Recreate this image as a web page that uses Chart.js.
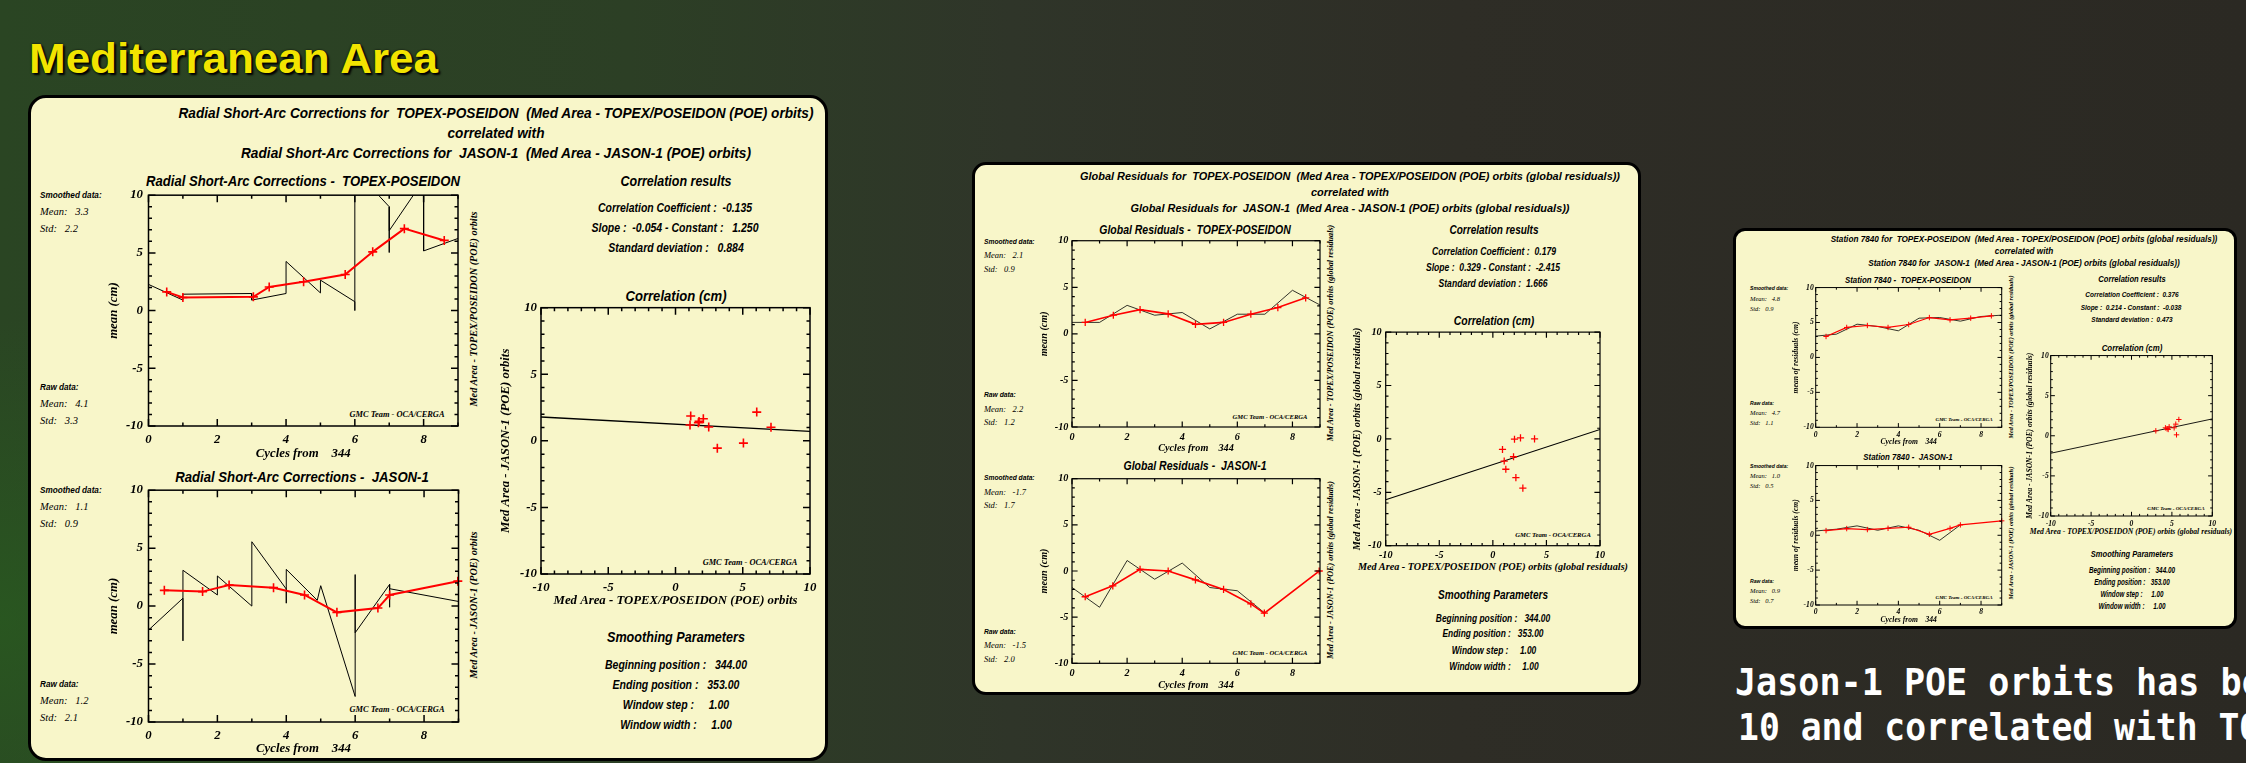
<!DOCTYPE html>
<html>
<head>
<meta charset="utf-8">
<script src="https://cdn.jsdelivr.net/npm/chart.js@4.4.1/dist/chart.umd.min.js"></script>
<style>
html, body { margin: 0; padding: 0; }
body {
  position: relative; width: 2246px; height: 763px; overflow: hidden;
  background:
    radial-gradient(ellipse 420px 300px at 0px 620px, rgba(40,100,30,0.55), rgba(40,100,30,0) 100%),
    linear-gradient(90deg, #2a4523 0%, #2c3f25 28%, #2f3529 45%, #2e2d26 65%, #2b2923 100%);
}
.panel { position: absolute; box-sizing: border-box; background: #f8f6c9; border: 3px solid #000; }
.t { position: absolute; white-space: pre; line-height: 1; color: #000; }
.ss { font-family: 'Liberation Sans', Arial, sans-serif; font-weight: bold; font-style: italic; }
.sf { font-family: 'Liberation Serif', 'Times New Roman', serif; font-weight: bold; font-style: italic; }
.si { font-family: 'Liberation Serif', 'Times New Roman', serif; font-style: italic; }
.head { font-family: 'Liberation Sans', Arial, sans-serif; font-weight: bold; color: #f2e400; text-shadow: 2px 2px 2px #000, 0 0 2px #000; }
.note { font-family: 'DejaVu Sans Mono', monospace; font-weight: bold; color: #fff; }
canvas { position: absolute; }
</style>
</head>
<body>
<script>
// axis ticks
const cycleTicks = [0, 2, 4, 6, 8];
const meanTicks = [-10, -5, 0, 5, 10];
const corrTicks = [-10, -5, 0, 5, 10];

// Radial short-arc corrections - TOPEX-POSEIDON
const rscTpRawX = [0, 1, 1, 3, 3, 4, 4, 5, 5, 6, 6, 6, 7, 7, 7, 8, 8, 9];
const rscTpRawY = [2.27, 0.91, 1.42, 1.48, 0.91, 1.48, 4.26, 1.53, 2.64, 0.77, 0, 12.2, 9.0, 5.03, 6.93, 11.3, 5.17, 6.25];
const rscTpSmX = [0.53, 1.0, 3.05, 3.51, 4.51, 5.72, 6.52, 7.44, 8.6];
const rscTpSmY = [1.62, 1.14, 1.19, 2.05, 2.5, 3.13, 5.09, 7.1, 6.08];
// Radial short-arc corrections - JASON-1
const rscJ1RawX = [0, 1, 1, 1, 2, 2, 3, 3, 4, 4, 4, 4.9, 5, 6, 6, 6, 7, 7, 7, 9];
const rscJ1RawY = [-2.07, 0.68, -3.0, 3.09, 0.96, 2.6, 0, 5.55, 1.47, 0.25, 3.17, 0.5, 1.76, -7.8, 2.72, -2.3, 1.87, -0.1, 1.5, 0.4];
const rscJ1SmX = [0.46, 1.57, 2.34, 3.63, 4.53, 5.47, 6.66, 7.0, 8.98];
const rscJ1SmY = [1.36, 1.25, 1.81, 1.59, 0.96, -0.54, -0.17, 0.96, 2.15];
// Radial short-arc correlation
const rscCorrX = [1.13, 1.08, 1.70, 1.75, 2.07, 2.47, 3.11, 5.05, 6.04, 7.10];
const rscCorrY = [1.86, 1.19, 1.36, 1.46, 1.66, 1.04, -0.55, -0.17, 2.16, 1.02];
const rscFit = [-0.054, 1.250];   // slope, constant

// Global residuals - TOPEX-POSEIDON
const grTpRawX = [0, 1, 2, 3, 4, 5, 6, 7, 8, 9];
const grTpRawY = [1.23, 1.23, 3.06, 2.0, 2.29, 0.53, 2.11, 2.11, 4.68, 3.1];
const grTpSmX = [0.48, 1.5, 2.47, 3.49, 4.48, 5.5, 6.49, 7.47, 8.48];
const grTpSmY = [1.23, 2.0, 2.6, 2.15, 1.02, 1.23, 2.11, 2.82, 3.87];
// Global residuals - JASON-1
const grJ1RawX = [0, 1, 2, 3, 4, 5, 6, 7];
const grJ1RawY = [-1.79, -3.93, 1.14, -0.89, 0.86, -1.79, -2.14, -4.57];
const grJ1SmX = [0.48, 1.48, 2.47, 3.49, 4.48, 5.5, 6.49, 6.98, 8.97];
const grJ1SmY = [-2.79, -1.6, 0.18, 0.0, -0.96, -2.0, -3.57, -4.57, 0.0];
// Global residuals correlation
const grCorrX = [0.9, 1.06, 1.21, 2.02, 2.58, 3.89, 1.93, 2.15, 2.8];
const grCorrY = [-0.99, -2.07, -2.84, -0.03, 0.09, 0.0, -1.67, -3.62, -4.6];
const grFit = [0.329, -2.415];

// Station 7840 - TOPEX-POSEIDON
const stTpRawX = [0, 1, 2, 3, 4, 5, 6, 7, 8, 9];
const stTpRawY = [3.05, 3.33, 4.76, 4.43, 3.81, 5.62, 5.71, 5.19, 5.86, 6.05];
const stTpSmX = [0.5, 1.5, 2.5, 3.5, 4.5, 5.5, 6.5, 7.5, 8.5];
const stTpSmY = [3.0, 4.29, 4.57, 4.29, 4.71, 5.71, 5.38, 5.62, 5.95];
// Station 7840 - JASON-1
const stJ1RawX = [0, 1, 2, 3, 4, 5, 6, 7];
const stJ1RawY = [0.62, 0.87, 1.35, 0.72, 1.35, 0.72, -0.72, 1.49];
const stJ1SmX = [0.5, 1.5, 2.5, 3.5, 4.5, 5.5, 6.5, 7.0, 9.0];
const stJ1SmY = [0.67, 0.96, 0.82, 1.0, 1.15, 0.14, 1.0, 1.49, 2.07];
// Station 7840 correlation
const stCorrX = [3.01, 4.2, 4.4, 4.54, 4.66, 5.28, 5.48, 5.57, 5.86];
const stCorrY = [0.62, 0.99, 0.87, 0.79, 1.12, 0.99, 1.45, 0.12, 2.03];
const stFit = [0.214, -0.038];

// mean / std of smoothed, then raw data
const rscTpStats = ['3.3', '2.2', '4.1', '3.3'];
const rscJ1Stats = ['1.1', '0.9', '1.2', '2.1'];
const grTpStats = ['2.1', '0.9', '2.2', '1.2'];
const grJ1Stats = ['-1.7', '1.7', '-1.5', '2.0'];
const stTpStats = ['4.8', '0.9', '4.7', '1.1'];
const stJ1Stats = ['1.0', '0.5', '0.9', '0.7'];

function pts(xs, ys) {
  return xs.map((x, i) => ({ x: x, y: ys[i] }));
}

// text helper: y is the vertical centre, w stretches the text to a width
function txt(x, y, s, cls, size, w, align, vert) {
  const d = document.createElement('div');
  d.className = 't ' + cls;
  d.style.fontSize = size + 'px';
  d.textContent = s;
  d.style.left = x + 'px';
  d.style.top = y + 'px';
  document.body.appendChild(d);
  const k = w ? w / d.getBoundingClientRect().width : 1;
  if (vert) {
    d.style.transform = 'translate(-50%,-50%) rotate(-90deg) scaleX(' + k + ')';
  } else if (align === 'l') {
    d.style.transformOrigin = '0 50%';
    d.style.transform = 'translate(0,-50%) scaleX(' + k + ')';
  } else {
    d.style.transform = 'translate(-50%,-50%) scaleX(' + k + ')';
  }
  return d;
}

function panel(l, t, r, b, rad) {
  const d = document.createElement('div');
  d.className = 'panel';
  d.style.left = l + 'px'; d.style.top = t + 'px';
  d.style.width = (r - l) + 'px'; d.style.height = (b - t) + 'px';
  d.style.borderRadius = rad + 'px';
  document.body.appendChild(d);
}

function stats(x, y0, y1, gap, v, hs, vs, wh, wr) {
  txt(x, y0, 'Smoothed data:', 'ss', hs, wh, 'l');
  txt(x, y0 + gap, 'Mean:   ' + v[0], 'si', vs, 0, 'l');
  txt(x, y0 + 2 * gap, 'Std:   ' + v[1], 'si', vs, 0, 'l');
  txt(x, y1, 'Raw data:', 'ss', hs, wr, 'l');
  txt(x, y1 + gap, 'Mean:   ' + v[2], 'si', vs, 0, 'l');
  txt(x, y1 + 2 * gap, 'Std:   ' + v[3], 'si', vs, 0, 'l');
}

// IDL style box with inward ticks on all four sides
function frame(k, xMaj) {
  return {
    id: 'frame',
    afterDatasetsDraw(chart) {
      const { ctx, chartArea: a, scales } = chart;
      const big = 7 * k, small = 3.5 * k;
      ctx.save();
      ctx.strokeStyle = '#000';
      ctx.lineWidth = Math.max(1, 1.5 * k);
      ctx.strokeRect(a.left, a.top, a.right - a.left, a.bottom - a.top);
      ctx.beginPath();
      for (let v = scales.x.min; v <= scales.x.max; v++) {
        const p = scales.x.getPixelForValue(v), len = v % xMaj === 0 ? big : small;
        ctx.moveTo(p, a.bottom); ctx.lineTo(p, a.bottom - len);
        ctx.moveTo(p, a.top); ctx.lineTo(p, a.top + len);
      }
      for (let v = scales.y.min; v <= scales.y.max; v++) {
        const p = scales.y.getPixelForValue(v), len = v % 5 === 0 ? big : small;
        ctx.moveTo(a.left, p); ctx.lineTo(a.left + len, p);
        ctx.moveTo(a.right, p); ctx.lineTo(a.right - len, p);
      }
      ctx.stroke();
      ctx.restore();
    }
  };
}

function tsSets(rx, ry, sx, sy, k) {
  return [
    { data: pts(sx, sy), showLine: true, borderColor: '#ff0000', borderWidth: Math.max(1.2, 2 * k),
      pointStyle: 'cross', pointRadius: 4.5 * k, pointBorderColor: '#ff0000', pointBorderWidth: Math.max(1, 1.6 * k), clip: 6 },
    { data: pts(rx, ry), showLine: true, borderColor: '#000', borderWidth: Math.max(0.8, k), pointRadius: 0, clip: 0 }
  ];
}

function corrSets(cx, cy, fit, k) {
  const ends = [corrTicks[0], corrTicks[corrTicks.length - 1]];
  return [
    { data: pts(cx, cy), pointStyle: 'cross', pointRadius: 4.5 * k, pointBorderColor: '#ff0000',
      pointBorderWidth: Math.max(1, 1.6 * k), clip: 6 },
    { data: ends.map(x => ({ x: x, y: fit[0] * x + fit[1] })), showLine: true, borderColor: '#000',
      borderWidth: Math.max(0.9, 1.3 * k), pointRadius: 0, clip: 0 }
  ];
}

function plot(c) {
  const fh = c.f * 1.2;
  const left = Math.round(c.ytx - fh / 2);
  const top = Math.round(c.T - c.pt);
  const right = Math.round(c.R + c.pr);
  const bottom = Math.round(c.xTitle ? c.xty + fh / 2 : c.B + c.xh);
  const yw = c.L - left, xh = bottom - c.B;
  const cv = document.createElement('canvas');
  cv.width = right - left; cv.height = bottom - top;
  cv.style.left = left + 'px'; cv.style.top = top + 'px';
  document.body.appendChild(cv);
  const font = { family: "'Liberation Serif', serif", style: 'italic', weight: 'bold', size: c.f };
  const corr = c.kind === 'corr';
  new Chart(cv, {
    type: 'scatter',
    data: { datasets: c.sets },
    plugins: [frame(c.k, corr ? 5 : 2)],
    options: {
      animation: false, responsive: false, events: [],
      layout: { padding: { top: c.T - top, right: right - c.R, left: 0, bottom: 0 } },
      plugins: { legend: { display: false }, tooltip: { enabled: false } },
      scales: {
        x: {
          min: corr ? -10 : 0, max: corr ? 10 : 9,
          afterBuildTicks: s => { s.ticks = (corr ? corrTicks : cycleTicks).map(v => ({ value: v })); },
          afterFit: s => { s.height = xh; },
          grid: { display: false, drawTicks: false }, border: { display: false },
          ticks: { font: font, color: '#000', padding: c.xpad, maxRotation: 0, autoSkip: false },
          title: { display: !!c.xTitle, text: c.xTitle || '', font: font, color: '#000', padding: 0 }
        },
        y: {
          min: -10, max: 10,
          afterBuildTicks: s => { s.ticks = (corr ? corrTicks : meanTicks).map(v => ({ value: v })); },
          afterFit: s => { s.width = yw; },
          grid: { display: false, drawTicks: false }, border: { display: false },
          ticks: { font: font, color: '#000', padding: c.ypad, autoSkip: false },
          title: { display: true, text: c.yTitle, font: font, color: '#000', padding: 0 }
        }
      }
    }
  });
}

// ---------- page title and side note ----------
txt(29, 58, 'Mediterranean Area', 'head', 43, 409, 'l');
txt(1735, 682, 'Jason-1 POE orbits has been', 'note', 38, 570, 'l');
txt(1738, 727, '10 and correlated with TOPEX', 'note', 38, 585, 'l');

// ---------- panel 1 : radial short-arc corrections ----------
panel(28, 95, 828, 761, 18);
txt(495.5, 113, 'Radial Short-Arc Corrections for  TOPEX-POSEIDON  (Med Area - TOPEX/POSEIDON (POE) orbits)', 'ss', 14, 635);
txt(495.5, 133, 'correlated with', 'ss', 14, 97);
txt(496, 153, 'Radial Short-Arc Corrections for  JASON-1  (Med Area - JASON-1 (POE) orbits)', 'ss', 14, 510);
txt(302.6, 180, 'Radial Short-Arc Corrections -  TOPEX-POSEIDON', 'ss', 15, 314);
txt(302, 476, 'Radial Short-Arc Corrections -  JASON-1', 'ss', 15, 253.6);
txt(675.5, 180, 'Correlation results', 'ss', 15, 111);
txt(675.4, 208, 'Correlation Coefficient :  -0.135', 'ss', 12.5, 154);
txt(675.4, 228, 'Slope :  -0.054 - Constant :   1.250', 'ss', 12.5, 167);
txt(675.6, 248, 'Standard deviation :   0.884', 'ss', 12.5, 135.5);
txt(676, 295, 'Correlation (cm)', 'ss', 15, 101);
txt(675.5, 637, 'Smoothing Parameters', 'ss', 15.5, 138);
txt(675.7, 665, 'Beginning position :   344.00', 'ss', 13.5, 142);
txt(675.7, 685, 'Ending position :   353.00', 'ss', 13.5, 126.8);
txt(676, 705, 'Window step :     1.00', 'ss', 13.5, 106.4);
txt(675.7, 725, 'Window width :     1.00', 'ss', 13.5, 111.4);
stats(40, 195, 387, 17, rscTpStats, 9.5, 10.5, 61.6, 38.6);
stats(40, 490, 684, 17, rscJ1Stats, 9.5, 10.5, 61.6, 38.6);
txt(474, 309, 'Med Area - TOPEX/POSEIDON (POE) orbits', 'sf', 10.2, 195, 'c', true);
txt(474, 605, 'Med Area - JASON-1 (POE) orbits', 'sf', 10.2, 147, 'c', true);
txt(396.5, 415, 'GMC Team - OCA/CERGA', 'sf', 8.3, 95);
txt(396.5, 710, 'GMC Team - OCA/CERGA', 'sf', 8.3, 95);
txt(750, 562.7, 'GMC Team - OCA/CERGA', 'sf', 8.3, 94.7);

plot({ kind: 'ts', k: 1, f: 12.8, L: 148.5, T: 192, R: 458, B: 426, ytx: 114, xty: 453, ypad: 5.5, xpad: 6, pt: 10, pr: 10,
  yTitle: 'mean (cm)', xTitle: 'Cycles from    344', sets: tsSets(rscTpRawX, rscTpRawY, rscTpSmX, rscTpSmY, 1) });
plot({ kind: 'ts', k: 1, f: 12.8, L: 148.5, T: 487, R: 458.5, B: 722, ytx: 114, xty: 748, ypad: 5.5, xpad: 6, pt: 10, pr: 10,
  yTitle: 'mean (cm)', xTitle: 'Cycles from    344', sets: tsSets(rscJ1RawX, rscJ1RawY, rscJ1SmX, rscJ1SmY, 1) });
plot({ kind: 'corr', k: 1, f: 12.8, L: 541, T: 306, R: 810, B: 574, ytx: 506, xty: 600, ypad: 4, xpad: 6, pt: 10, pr: 14,
  yTitle: 'Med Area - JASON-1 (POE) orbits', xTitle: 'Med Area - TOPEX/POSEIDON (POE) orbits',
  sets: corrSets(rscCorrX, rscCorrY, rscFit, 1) });

// ---------- panel 2 : global residuals ----------
panel(971.6, 161.7, 1641.5, 695, 14);
txt(1349.5, 176.5, 'Global Residuals for  TOPEX-POSEIDON  (Med Area - TOPEX/POSEIDON (POE) orbits (global residuals))', 'ss', 11.5, 540);
txt(1349.5, 192.5, 'correlated with', 'ss', 11.5, 78);
txt(1349.6, 208.5, 'Global Residuals for  JASON-1  (Med Area - JASON-1 (POE) orbits (global residuals))', 'ss', 11.5, 439);
txt(1195, 230, 'Global Residuals -  TOPEX-POSEIDON', 'ss', 12.5, 191.5);
txt(1195, 466, 'Global Residuals -  JASON-1', 'ss', 12.5, 143);
txt(1493.5, 230, 'Correlation results', 'ss', 12.5, 89);
txt(1493.6, 251.7, 'Correlation Coefficient :  0.179', 'ss', 10.3, 124);
txt(1493.2, 267.7, 'Slope :  0.329 - Constant :  -2.415', 'ss', 10.3, 134);
txt(1493.2, 283.7, 'Standard deviation :  1.666', 'ss', 10.3, 109);
txt(1493.8, 320.7, 'Correlation (cm)', 'ss', 12.5, 80.5);
txt(1493, 595, 'Smoothing Parameters', 'ss', 12.5, 110);
txt(1493.2, 617.7, 'Beginning position :   344.00', 'ss', 11, 114.4);
txt(1493.2, 633, 'Ending position :   353.00', 'ss', 11, 101);
txt(1493.6, 650, 'Window step :     1.00', 'ss', 11, 84.5);
txt(1493.8, 665.7, 'Window width :     1.00', 'ss', 11, 89.4);
stats(984, 241.7, 395, 13.5, grTpStats, 8, 8.5, 50.6, 31.7);
stats(984, 478, 631.7, 13.5, grJ1Stats, 8, 8.5, 50.6, 31.7);
txt(1331, 333, 'Med Area - TOPEX/POSEIDON (POE) orbits (global residuals)', 'sf', 8.2, 216.7, 'c', true);
txt(1331, 570, 'Med Area - JASON-1 (POE) orbits (global residuals)', 'sf', 8.2, 178, 'c', true);
txt(1269.7, 416.7, 'GMC Team - OCA/CERGA', 'sf', 6.6, 75);
txt(1269.7, 652.7, 'GMC Team - OCA/CERGA', 'sf', 6.6, 75);
txt(1553, 535, 'GMC Team - OCA/CERGA', 'sf', 6.6, 75.7);
txt(1493.3, 566.7, 'Med Area - TOPEX/POSEIDON (POE) orbits (global residuals)', 'sf', 10.2, 270);

plot({ kind: 'ts', k: 0.8, f: 10.2, L: 1072, T: 239, R: 1320, B: 427, ytx: 1044, xty: 448, ypad: 3.6, xpad: 4, pt: 8, pr: 8,
  yTitle: 'mean (cm)', xTitle: 'Cycles from    344', sets: tsSets(grTpRawX, grTpRawY, grTpSmX, grTpSmY, 0.8) });
plot({ kind: 'ts', k: 0.8, f: 10.2, L: 1072, T: 476.7, R: 1320, B: 663.3, ytx: 1044, xty: 685, ypad: 3.6, xpad: 3.8, pt: 8, pr: 8,
  yTitle: 'mean (cm)', xTitle: 'Cycles from    344', sets: tsSets(grJ1RawX, grJ1RawY, grJ1SmX, grJ1SmY, 0.8) });
plot({ kind: 'corr', k: 0.8, f: 10.2, L: 1385.7, T: 330, R: 1600, B: 545.7, ytx: 1357, xh: 18, ypad: 4, xpad: 3.7, pt: 8, pr: 12,
  yTitle: 'Med Area - JASON-1 (POE) orbits (global residuals)', sets: corrSets(grCorrX, grCorrY, grFit, 0.8) });

// ---------- panel 3 : station 7840 ----------
panel(1733, 228, 2237, 629, 12);
txt(2024.3, 239, 'Station 7840 for  TOPEX-POSEIDON  (Med Area - TOPEX/POSEIDON (POE) orbits (global residuals))', 'ss', 8.7, 386.7);
txt(2024.2, 251, 'correlated with', 'ss', 8.7, 58.3);
txt(2024.2, 262.7, 'Station 7840 for  JASON-1  (Med Area - JASON-1 (POE) orbits (global residuals))', 'ss', 8.7, 311.7);
txt(1908, 280, 'Station 7840 -  TOPEX-POSEIDON', 'ss', 9.5, 126);
txt(1908, 457.3, 'Station 7840 -  JASON-1', 'ss', 9.5, 89.3);
txt(2132, 279, 'Correlation results', 'ss', 9.5, 67.3);
txt(2131.7, 295.3, 'Correlation Coefficient :  0.376', 'ss', 7.8, 93.3);
txt(2131.3, 308.3, 'Slope :  0.214 - Constant :  -0.038', 'ss', 7.8, 100.7);
txt(2131.7, 320.3, 'Standard deviation :  0.473', 'ss', 7.8, 81.3);
txt(2132, 347.7, 'Correlation (cm)', 'ss', 9.5, 60.7);
txt(2132.2, 554, 'Smoothing Parameters', 'ss', 9.5, 82.3);
txt(2132, 570, 'Beginning position :   344.00', 'ss', 8.4, 86);
txt(2132.2, 582.3, 'Ending position :   353.00', 'ss', 8.4, 75.7);
txt(2132.2, 594.3, 'Window step :     1.00', 'ss', 8.4, 63);
txt(2132.2, 606.3, 'Window width :     1.00', 'ss', 8.4, 67);
stats(1750, 288.3, 402.7, 10.2, stTpStats, 6, 6.5, 38.3, 24);
stats(1750, 466, 581, 10, stJ1Stats, 6, 6.5, 38.3, 24);
txt(2011, 356.5, 'Med Area - TOPEX/POSEIDON (POE) orbits (global residuals)', 'sf', 6.1, 163, 'c', true);
txt(2011, 533.3, 'Med Area - JASON-1 (POE) orbits (global residuals)', 'sf', 6.1, 133, 'c', true);
txt(1964.2, 419.3, 'GMC Team - OCA/CERGA', 'sf', 5, 57);
txt(1964.2, 597.3, 'GMC Team - OCA/CERGA', 'sf', 5, 57);
txt(2176.3, 508.3, 'GMC Team - OCA/CERGA', 'sf', 5, 57.3);
txt(2131, 531.7, 'Med Area - TOPEX/POSEIDON (POE) orbits (global residuals)', 'sf', 7.6, 202.3);

plot({ kind: 'ts', k: 0.6, f: 7.6, L: 1815.7, T: 286.7, R: 2001.7, B: 427.3, ytx: 1795.7, xty: 442.7, ypad: 2, xpad: 2.8, pt: 6, pr: 6,
  yTitle: 'mean of residuals (cm)', xTitle: 'Cycles from    344', sets: tsSets(stTpRawX, stTpRawY, stTpSmX, stTpSmY, 0.6) });
plot({ kind: 'ts', k: 0.6, f: 7.6, L: 1815.7, T: 465, R: 2001.7, B: 605, ytx: 1795.7, xty: 620.7, ypad: 2, xpad: 2.5, pt: 6, pr: 6,
  yTitle: 'mean of residuals (cm)', xTitle: 'Cycles from    344', sets: tsSets(stJ1RawX, stJ1RawY, stJ1SmX, stJ1SmY, 0.6) });
plot({ kind: 'corr', k: 0.6, f: 7.6, L: 2050.7, T: 355, R: 2212.3, B: 516, ytx: 2030, xh: 14, ypad: 2, xpad: 3.1, pt: 6, pr: 10,
  yTitle: 'Med Area - JASON-1 (POE) orbits (global residuals)', sets: corrSets(stCorrX, stCorrY, stFit, 0.6) });
</script>
</body>
</html>
